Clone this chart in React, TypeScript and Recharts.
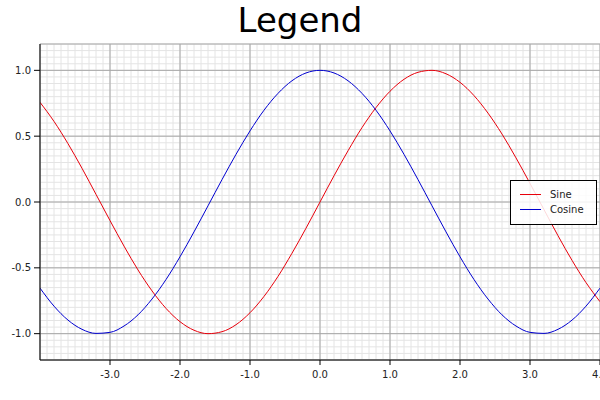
import { LineChart, Line, XAxis, YAxis, CartesianGrid } from "recharts";

const xValues = [
  -4.0, -3.8, -3.6, -3.4, -3.2, -3.0, -2.8, -2.6, -2.4, -2.2, -2.0, -1.8, -1.6, -1.4, -1.2, -1.0, -0.8, -0.6, -0.4, -0.2,
  0.0, 0.2, 0.4, 0.6, 0.8, 1.0, 1.2, 1.4, 1.6, 1.8, 2.0, 2.2, 2.4, 2.6, 2.8, 3.0, 3.2, 3.4, 3.6, 3.8, 4.0,
];

const sineValues = [
  0.757, 0.612, 0.443, 0.256, 0.058, -0.141, -0.335, -0.516, -0.675, -0.808, -0.909, -0.974, -1.0, -0.985, -0.932, -0.841,
  -0.717, -0.565, -0.389, -0.199, 0.0, 0.199, 0.389, 0.565, 0.717, 0.841, 0.932, 0.985, 1.0, 0.974, 0.909, 0.808, 0.675,
  0.516, 0.335, 0.141, -0.058, -0.256, -0.443, -0.612, -0.757,
];

const cosineValues = [
  -0.654, -0.791, -0.897, -0.967, -0.998, -0.99, -0.942, -0.857, -0.737, -0.589, -0.416, -0.227, -0.029, 0.17, 0.362, 0.54,
  0.697, 0.825, 0.921, 0.98, 1.0, 0.98, 0.921, 0.825, 0.697, 0.54, 0.362, 0.17, -0.029, -0.227, -0.416, -0.589, -0.737,
  -0.857, -0.942, -0.99, -0.998, -0.967, -0.897, -0.791, -0.654,
];

const seriesNames = ["Sine", "Cosine"];
const seriesColors = ["#e8000b", "#0000d0"];

const xTicks = [-3, -2, -1, 0, 1, 2, 3, 4];
const yTicks = [-1, -0.5, 0, 0.5, 1];

// minor grid steps
const minorX = Array.from({ length: 81 }, (_, i) => Math.round((-4 + i * 0.1) * 10) / 10);
const minorY = Array.from({ length: 49 }, (_, i) => Math.round((-1.2 + i * 0.05) * 100) / 100);

const data = xValues.map((x, i) => ({ x, sine: sineValues[i], cosine: cosineValues[i] }));

const font = "'DejaVu Sans', sans-serif";

function LegendBox() {
  return (
    <div
      style={{
        position: "absolute",
        left: 510,
        top: 180,
        width: 85,
        height: 37,
        border: "1px solid #000",
        background: "rgba(255,255,255,0.85)",
        fontFamily: font,
        fontSize: 10,
        color: "#222",
        paddingTop: 6,
      }}
    >
      {seriesNames.map((name, i) => (
        <div key={name} style={{ display: "flex", alignItems: "center", height: 15 }}>
          <div style={{ width: 21, height: 1, background: seriesColors[i], marginLeft: 9, marginRight: 9 }} />
          <span>{name}</span>
        </div>
      ))}
    </div>
  );
}

export default function App() {
  return (
    <div style={{ position: "fixed", left: 0, top: 0, width: 600, height: 400, background: "#fff" }}>
      <div
        style={{
          position: "absolute",
          left: 0,
          top: 3,
          width: 600,
          textAlign: "center",
          fontFamily: font,
          fontSize: 34,
          lineHeight: "34px",
          color: "#000",
        }}
      >
        Legend
      </div>
      <LineChart width={600} height={400} data={data} margin={{ top: 44, right: 0, bottom: 0, left: 0 }}>
        <CartesianGrid stroke="#e4e4e4" xAxisId="minor" yAxisId="minor" />
        <CartesianGrid stroke="#a6a6a6" />
        <XAxis xAxisId="minor" dataKey="x" type="number" domain={[-4, 4]} ticks={minorX} interval={0} hide allowDataOverflow />
        <YAxis yAxisId="minor" type="number" domain={[-1.2, 1.2]} ticks={minorY} interval={0} hide allowDataOverflow />
        <XAxis
          dataKey="x"
          type="number"
          domain={[-4, 4]}
          ticks={xTicks}
          interval={0}
          tickFormatter={(v: number) => v.toFixed(1)}
          height={40}
          tickSize={5}
          tickMargin={6}
          allowDataOverflow
          stroke="#000"
          tick={{ fill: "#222", fontSize: 10, fontFamily: font }}
        />
        <YAxis
          type="number"
          domain={[-1.2, 1.2]}
          ticks={yTicks}
          interval={0}
          tickFormatter={(v: number) => v.toFixed(1)}
          width={40}
          tickSize={6}
          tickMargin={3}
          allowDataOverflow
          stroke="#000"
          tick={{ fill: "#222", fontSize: 10, fontFamily: font }}
        />
        <Line dataKey="sine" name={seriesNames[0]} stroke={seriesColors[0]} strokeWidth={1} dot={false} type="monotone" isAnimationActive={false} />
        <Line dataKey="cosine" name={seriesNames[1]} stroke={seriesColors[1]} strokeWidth={1} dot={false} type="monotone" isAnimationActive={false} />
      </LineChart>
      <LegendBox />
    </div>
  );
}
